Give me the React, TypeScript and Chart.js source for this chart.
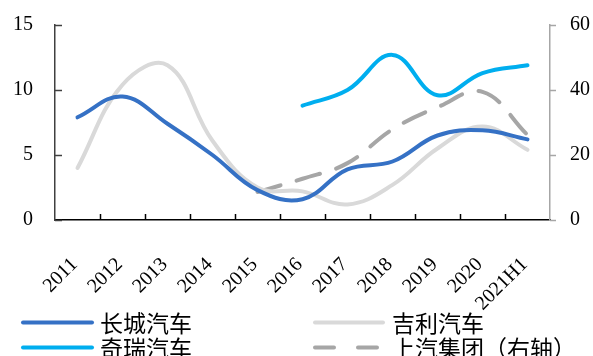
import React, { useEffect, useRef } from 'react';
import { Chart, registerables } from 'chart.js';

Chart.register(...registerables);

// Categories and series (share / % values)
const years = ['2011', '2012', '2013', '2014', '2015', '2016', '2017', '2018', '2019', '2020', '2021H1'];
const greatWall = [7.9, 9.5, 7.4, 5.0, 2.3, 1.6, 3.9, 4.5, 6.5, 6.9, 6.2];
const geely = [4.0, 10.4, 11.9, 6.1, 2.5, 2.2, 1.2, 2.7, 5.5, 7.2, 5.4];
const chery = [null, null, null, null, null, 8.8, 10.0, 12.7, 9.6, 11.3, 11.9];
const saic = [null, null, null, null, 8.6, 12.7, 17.5, 27.9, 34.7, 39.4, 26.2];

const leftMax = 15;
const leftStep = 5;
const rightMax = 60;
const rightStep = 20;

const seriesNames = ['长城汽车', '吉利汽车', '奇瑞汽车', '上汽集团（右轴）'];

const BLUE = '#3571C5';
const LIGHT_GRAY = '#D9D9D9';
const CYAN = '#00AEEF';
const DARK_GRAY = '#A6A6A6';

const tickFont = { family: '"Liberation Serif", "Times New Roman", serif', size: 20 };

// Inward tick marks on the left and bottom axes, outward on the right axis
const tickMarks = {
  id: 'tickMarks',
  afterDraw(chart: any) {
    const { ctx, chartArea, scales } = chart;
    ctx.save();
    ctx.lineWidth = 1.5;
    ctx.strokeStyle = '#000';
    const x = scales.x;
    const n = x.ticks.length;
    const step = (chartArea.right - chartArea.left) / n;
    for (let i = 1; i < n; i++) {
      const px = Math.round(chartArea.left + i * step) + 0.5;
      ctx.beginPath();
      ctx.moveTo(px, chartArea.bottom);
      ctx.lineTo(px, chartArea.bottom - 6);
      ctx.stroke();
    }
    ctx.strokeStyle = '#404040';
    scales.y.ticks.forEach((t: any) => {
      const py = Math.round(scales.y.getPixelForValue(t.value)) + 0.5;
      ctx.beginPath();
      ctx.moveTo(chartArea.left, py);
      ctx.lineTo(chartArea.left + 7, py);
      ctx.stroke();
    });
    ctx.strokeStyle = DARK_GRAY;
    scales.y1.ticks.forEach((t: any) => {
      const py = Math.round(scales.y1.getPixelForValue(t.value)) + 0.5;
      ctx.beginPath();
      ctx.moveTo(chartArea.right, py);
      ctx.lineTo(chartArea.right + 6, py);
      ctx.stroke();
    });
    ctx.restore();
  },
};

// Two-column legend under the axis labels
const gridLegend = {
  id: 'gridLegend',
  afterDraw(chart: any) {
    const { ctx } = chart;
    const slots = [
      { col: 0, row: 0 },
      { col: 1, row: 0 },
      { col: 0, row: 1 },
      { col: 1, row: 1 },
    ];
    const cols = [
      { lineStart: 23, lineEnd: 92, text: 100 },
      { lineStart: 315, lineEnd: 383, text: 392 },
    ];
    const rows = [322.5, 347.5];
    ctx.save();
    ctx.font = '23px "Noto Sans CJK SC", sans-serif';
    ctx.textBaseline = 'middle';
    ctx.textAlign = 'left';
    chart.data.datasets.forEach((ds: any, i: number) => {
      const s = slots[i];
      const c = cols[s.col];
      const y = rows[s.row];
      ctx.beginPath();
      ctx.lineWidth = 4;
      ctx.lineCap = 'round';
      ctx.strokeStyle = ds.borderColor;
      ctx.setLineDash(ds.borderDash && ds.borderDash.length ? [19, 24] : []);
      ctx.moveTo(c.lineStart, y);
      ctx.lineTo(c.lineEnd, y);
      ctx.stroke();
      ctx.setLineDash([]);
      ctx.fillStyle = '#000';
      ctx.fillText(ds.label, c.text, y + 1);
    });
    ctx.restore();
  },
};

const fixVertical = (width: number) => (s: any) => {
  s.width = width;
  s.paddingTop = 0;
  s.paddingBottom = 0;
};

export default function App() {
  const canvasRef = useRef<HTMLCanvasElement | null>(null);

  useEffect(() => {
    document.body.style.margin = '0';
    const canvas = canvasRef.current;
    if (!canvas) return;
    const line = (label: string, data: (number | null)[], color: string, axis: string, dash: number[] = []) => ({
      label,
      data,
      yAxisID: axis,
      borderColor: color,
      backgroundColor: color,
      borderWidth: 4,
      borderDash: dash,
      borderCapStyle: 'round' as const,
      borderJoinStyle: 'round' as const,
      pointRadius: 0,
      pointHoverRadius: 0,
      tension: 0.4,
      fill: false,
    });
    const chart = new Chart(canvas, {
      type: 'line',
      data: {
        labels: years,
        datasets: [
          line(seriesNames[0], greatWall, BLUE, 'y'),
          line(seriesNames[1], geely, LIGHT_GRAY, 'y'),
          line(seriesNames[2], chery, CYAN, 'y'),
          line(seriesNames[3], saic, DARK_GRAY, 'y1', [24, 17]),
        ],
      },
      options: {
        responsive: false,
        animation: false,
        devicePixelRatio: 1,
        layout: { padding: { top: 25, left: 0, right: 0, bottom: 0 } },
        plugins: {
          legend: { display: false },
          tooltip: { enabled: false },
        },
        scales: {
          x: {
            type: 'category',
            offset: true,
            grid: { display: false, drawTicks: false },
            border: { display: true, color: '#000', width: 1.5 },
            ticks: {
              font: tickFont,
              color: '#000',
              minRotation: 45,
              maxRotation: 45,
              autoSkip: false,
              padding: 33,
              labelOffset: -3,
            },
            afterFit: (s: any) => {
              s.height = 136;
            },
          },
          y: {
            position: 'left',
            min: 0,
            max: leftMax,
            grid: { display: false, drawTicks: false },
            border: { display: true, color: '#404040', width: 1.5 },
            ticks: { stepSize: leftStep, font: tickFont, color: '#000', padding: 22 },
            afterFit: fixVertical(55),
          },
          y1: {
            position: 'right',
            min: 0,
            max: rightMax,
            grid: { display: false, drawTicks: false },
            border: { display: true, color: DARK_GRAY, width: 1.5 },
            ticks: { stepSize: rightStep, font: tickFont, color: '#000', padding: 20 },
            afterFit: fixVertical(43),
          },
        },
      },
      plugins: [tickMarks, gridLegend],
    });
    return () => chart.destroy();
  }, []);

  return <canvas ref={canvasRef} width={593} height={356} style={{ display: 'block' }} />;
}
